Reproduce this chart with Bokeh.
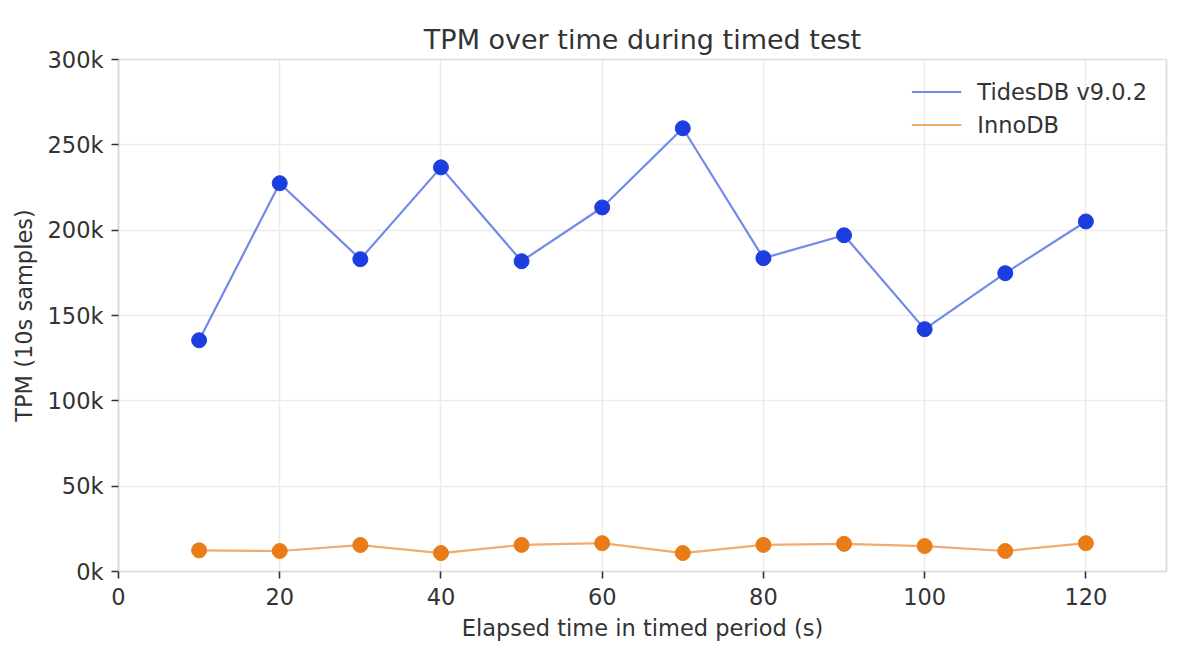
from bokeh.plotting import figure
from bokeh.models import FixedTicker, Range1d, Legend, LegendItem, Title
from bokeh.embed import file_html
from bokeh.resources import INLINE

# elapsed seconds and TPM samples
elapsed = [10, 20, 30, 40, 50, 60, 70, 80, 90, 100, 110, 120]
tidesdb_tpm = [135500, 227500, 183000, 236800, 181800, 213300, 259700,
               183600, 197000, 142000, 174800, 205100]
innodb_tpm = [12400, 12000, 15500, 10800, 15600, 16600, 10800,
              15600, 16200, 14900, 12000, 16600]

y_ticks = [0, 50000, 100000, 150000, 200000, 250000, 300000]
y_tick_labels = ["0k", "50k", "100k", "150k", "200k", "250k", "300k"]
x_ticks = [0, 20, 40, 60, 80, 100, 120]

FONT = "DejaVu Sans"
TEXT = "#333333"
FRAME = "#dddddd"

p = figure(frame_width=1048, frame_height=512,
           output_backend="svg", toolbar_location=None,
           x_range=Range1d(0, 130), y_range=Range1d(0, 300000),
           min_border_left=118, min_border_right=13,
           min_border_top=59, min_border_bottom=76)
p.background_fill_color = "white"
p.border_fill_color = "white"
p.outline_line_color = FRAME
p.outline_line_width = 1.7

# blank strip between the frame and the title, so the title sits higher
spacer = Title(text=" ", text_font_size="1px", text_alpha=0, standoff=13)
p.add_layout(spacer, "above")

p.title.text = "TPM over time during timed test"
p.title.align = "center"
p.title.text_font = FONT
p.title.text_font_size = "27px"
p.title.text_font_style = "normal"
p.title.text_color = TEXT
p.title.standoff = 10

# series
blue_line = p.line(elapsed, tidesdb_tpm, line_color="#7288ea", line_width=2.2)
p.scatter(elapsed, tidesdb_tpm, size=15, fill_color="#1c3ee0", line_color="#1c3ee0")
orange_line = p.line(elapsed, innodb_tpm, line_color="#f2ab6e", line_width=2.2)
p.scatter(elapsed, innodb_tpm, size=15, fill_color="#ea7c17", line_color="#ea7c17")

legend = Legend(items=[
    LegendItem(label="TidesDB v9.0.2", renderers=[blue_line]),
    LegendItem(label="InnoDB", renderers=[orange_line]),
], location="top_right")
legend.border_line_color = None
legend.background_fill_alpha = 0
legend.label_text_font = FONT
legend.label_text_font_size = "22.5px"
legend.label_text_color = TEXT
legend.glyph_width = 50
legend.glyph_height = 27
legend.label_height = 27
legend.label_standoff = 16
legend.spacing = 6
legend.margin = 19
legend.padding = 9
p.add_layout(legend)

# axes
p.xaxis.ticker = FixedTicker(ticks=x_ticks)
p.yaxis.ticker = FixedTicker(ticks=y_ticks)
p.yaxis.major_label_overrides = dict(zip(y_ticks, y_tick_labels))
p.xaxis.axis_label = "Elapsed time in timed period (s)"
p.yaxis.axis_label = "TPM (10s samples)"
for ax in (p.xaxis, p.yaxis):
    ax.axis_label_text_font = FONT
    ax.axis_label_text_font_size = "22.5px"
    ax.axis_label_text_font_style = "normal"
    ax.axis_label_text_color = TEXT
    ax.major_label_text_font = FONT
    ax.major_label_text_font_size = "22.5px"
    ax.major_label_text_color = TEXT
    ax.axis_line_color = FRAME
    ax.axis_line_width = 1.7
    ax.major_tick_line_color = TEXT
    ax.major_tick_line_width = 1.6
    ax.major_tick_in = 0
    ax.major_tick_out = 7
    ax.minor_tick_line_color = None
p.xaxis.major_label_standoff = 9
p.yaxis.major_label_standoff = 8
p.xaxis.axis_label_standoff = 7
p.yaxis.axis_label_standoff = 8

p.grid.grid_line_color = "#ebebeb"
p.grid.grid_line_width = 1.5

open("out.html", "w").write(file_html(p, INLINE))
